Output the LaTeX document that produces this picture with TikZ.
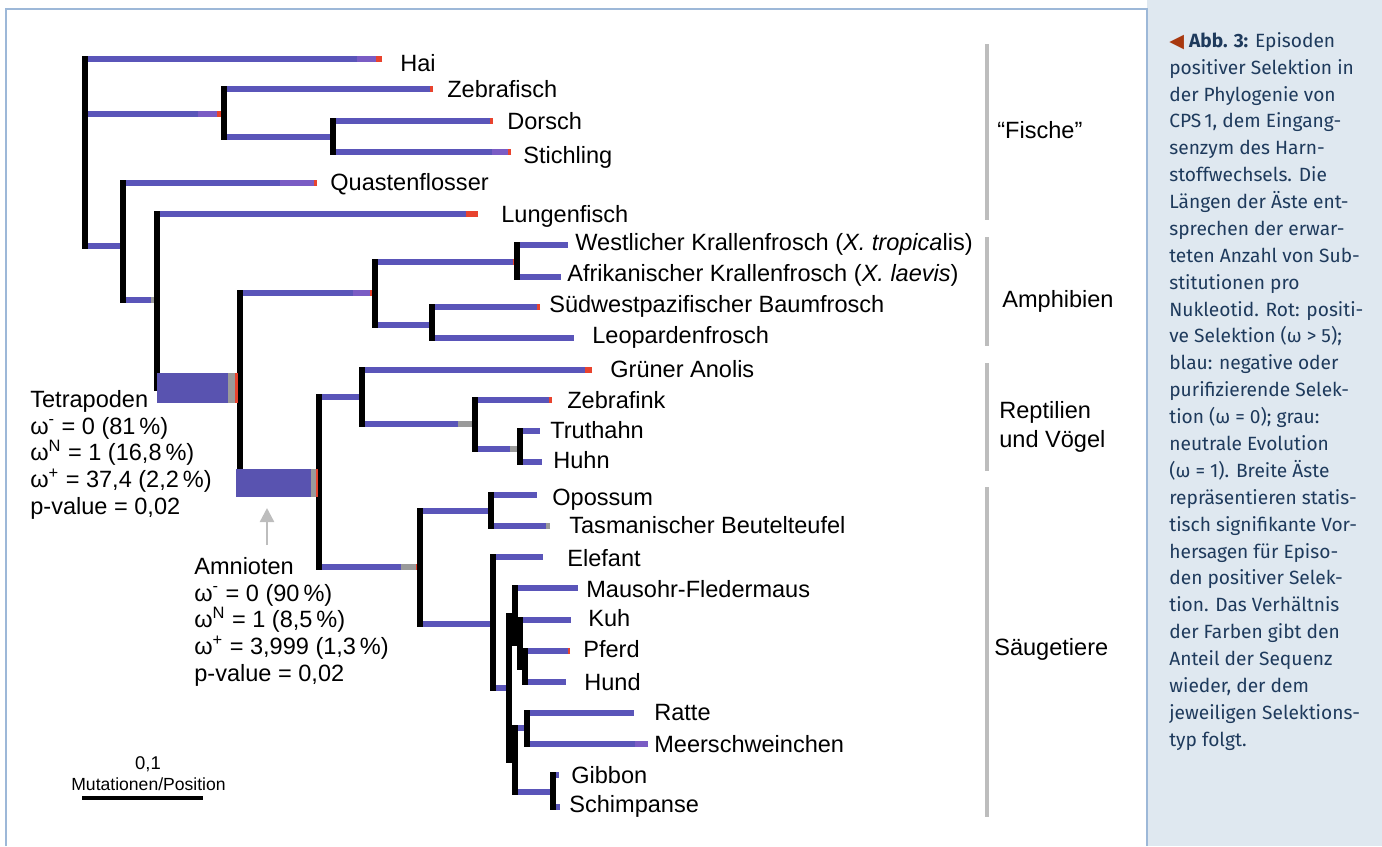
\documentclass[tikz,border=0pt]{standalone}
\usepackage{fontspec}
\setmainfont{Liberation Sans}
\newfontfamily\capfont{Fira Sans}
\newfontfamily\symfont{DejaVu Sans}
\usetikzlibrary{arrows.meta}

% parent/child/child of every split in the tree
\newcommand\clades{tel/zebra/gad, gad/dorsch/stich, sarc/quast/rhip, rhip/lungen/tetra,
  tetra/amph/amni, amph/xen/hyl, xen/westl/afrik, hyl/suedw/leop,
  amni/sau/mam, sau/anolis/aves, aves/zfink/gall, gall/truth/huhn,
  mam/mars/plac, mars/opos/tasm, plac/elef/bor, bor/laur/euar,
  laur/maus/scro, scro/kuh/pc, pc/pferd/hund, euar/rod/prim,
  rod/ratte/meer, prim/gibbon/schimp}

\begin{document}
\begin{tikzpicture}[x=0.02cm, y=-0.02cm,
  br/.style={line width=3pt, brblue},
  vt/.style={line width=3pt, black, line cap=rect},
  posbr/.style={line width=3pt, posred},
  neubr/.style={line width=3pt, neugray},
  mixbr/.style={line width=3pt, mixpurple},
  lbl/.style={anchor=base west, inner sep=0pt, font=\fontsize{13.4}{15.2}\selectfont},
  stat/.style={anchor=north west, inner sep=0pt, align=left, font=\fontsize{13.4}{15.2}\selectfont},
  grp/.style={line width=2.6pt, grpgray},
  hint/.style={line width=1.4pt, grpgray, -{Triangle[width=8pt, length=8pt]}}]
% Colours of the figure
\definecolor{brblue}{HTML}{5A55B9}
\definecolor{boxblue}{HTML}{5953B0}
\definecolor{posred}{HTML}{E8432E}
\definecolor{neugray}{HTML}{9A9A9A}
\definecolor{mixpurple}{HTML}{7A5CC4}
\definecolor{grpgray}{HTML}{BDBDBD}
\definecolor{frameblue}{HTML}{9DB8D8}
\definecolor{panelfill}{HTML}{DFE8F0}
\definecolor{captext}{HTML}{1E3A5C}
\definecolor{capred}{HTML}{A8380F}
\useasboundingbox (0,0) rectangle (1382,846);

% Frame and caption panel
\fill[panelfill] (1147,0) rectangle (1382,846);
\draw[frameblue, line width=0.7pt] (6,846) -- (6,9) -- (1147,9) -- (1147,846);

% Splits of the tree (x of the split, y of its branch)
\coordinate (root) at (85,152);
\coordinate (tel) at (224,114);
\coordinate (gad) at (333,137);
\coordinate (sarc) at (123,246);
\coordinate (rhip) at (157,300);
\coordinate (tetra) at (240,388);
\coordinate (amph) at (375,293);
\coordinate (xen) at (517,262);
\coordinate (hyl) at (432,325);
\coordinate (amni) at (319,483);
\coordinate (sau) at (362,397);
\coordinate (aves) at (475,424);
\coordinate (gall) at (520,449);
\coordinate (mam) at (420,567);
\coordinate (mars) at (491,511);
\coordinate (plac) at (493,624);
\coordinate (bor) at (509,688);
\coordinate (laur) at (515,616);
\coordinate (scro) at (520,643);
\coordinate (pc) at (525,667);
\coordinate (euar) at (515,760);
\coordinate (rod) at (527,728);
\coordinate (prim) at (553,792);
% Tips of the tree
\coordinate (hai) at (382,59);
\coordinate (zebra) at (433,89);
\coordinate (dorsch) at (493,121);
\coordinate (stich) at (511,152);
\coordinate (quast) at (317,183);
\coordinate (lungen) at (478,214);
\coordinate (westl) at (568,245);
\coordinate (afrik) at (561,277);
\coordinate (suedw) at (540,307);
\coordinate (leop) at (574,338);
\coordinate (anolis) at (592,370);
\coordinate (zfink) at (552,400);
\coordinate (truth) at (540,431);
\coordinate (huhn) at (542,462);
\coordinate (opos) at (537,495);
\coordinate (tasm) at (550,526);
\coordinate (elef) at (543,557);
\coordinate (maus) at (578,588);
\coordinate (kuh) at (571,620);
\coordinate (pferd) at (570,651);
\coordinate (hund) at (566,682);
\coordinate (ratte) at (634,713);
\coordinate (meer) at (648,744);
\coordinate (gibbon) at (559,775);
\coordinate (schimp) at (560,807);

% Branches are blue
\foreach \a in {hai,tel,sarc} \draw[br] (\a -| root) -- (\a);
\foreach \p/\a/\b in \clades {
  \draw[br] (\a -| \p) -- (\a);
  \draw[br] (\b -| \p) -- (\b);
}
% Ends of the branches: red positive, grey neutral
\foreach \t/\l/\c in {hai/25/mixbr, hai/6/posbr, tel/26/mixbr, tel/7/posbr, zebra/3/posbr,
    dorsch/3/posbr, stich/19/mixbr, stich/3/posbr, quast/37/mixbr, quast/3/posbr,
    lungen/12/posbr, rhip/6/neubr, amph/22/mixbr, amph/5/posbr, xen/4/posbr,
    suedw/3/posbr, anolis/7/posbr, zfink/3/posbr, aves/17/neubr, gall/10/neubr,
    pferd/2/posbr, tasm/4/neubr, mam/19/neubr, mam/4/posbr, meer/13/mixbr}
  \draw[\c] (\t) -- ++(-\l,0);
% Splits are black
\draw[vt] (hai -| root) -- (sarc -| root);
\foreach \p/\a/\b in \clades \draw[vt] (\a -| \p) -- (\b -| \p);

% Wide branches of Tetrapoden and Amnioten
\fill[boxblue] (157,373) rectangle (238,403);
\fill[neugray] (228,373) rectangle (235,403);
\fill[posred] (235,373) rectangle (238,403);
\fill[boxblue] (236,469) rectangle (317,497);
\fill[neugray] (311,469) rectangle (316,497);
\fill[posred] (316,469) rectangle (317.5,497);

% Species
\foreach \n/\x/\y/\t in {hai/400/71/Hai, zebra/447/97/Zebrafisch,
    dorsch/507/129/Dorsch, stich/523/163/Stichling,
    quast/330/190/Quastenflosser, lungen/501/222/Lungenfisch,
    westl/575/250/Westlicher Krallenfrosch (\textit{X. tropica}lis),
    afrik/567/281/Afrikanischer Krallenfrosch (\textit{X. laevis}),
    suedw/549/312/Südwestpazifischer Baumfrosch, leop/592/343/Leopardenfrosch,
    anolis/610/377/Grüner Anolis, zfink/567/408/Zebrafink,
    truth/550/438/Truthahn, huhn/553/468/Huhn,
    opos/552/505/Opossum, tasm/569/533/Tasmanischer Beutelteufel,
    elef/567/566/Elefant, maus/586/597/Mausohr-Fledermaus,
    kuh/588/626/Kuh, pferd/583/657/Pferd, hund/584/690/Hund,
    ratte/654/720/Ratte, meer/654/752/Meerschweinchen,
    gibbon/571/783/Gibbon, schimp/569/812/Schimpanse}
  \node[lbl] (l\n) at (\x,\y) {\t};

% Groups
\draw[grp] (987,44) -- (987,220);
\draw[grp] (987,237) -- (987,346);
\draw[grp] (987,363) -- (987,471);
\draw[grp] (987,487) -- (987,817);
\node[lbl] (gfish) at (997,138) {“Fische”};
\node[lbl] (gamph) at (1002,307) {Amphibien};
\node[stat, font=\fontsize{13.4}{16.4}\selectfont] (grept) at (999,401) {Reptilien\\und Vögel};
\node[lbl] (gmam) at (994,655) {Säugetiere};

% Estimates for the wide branches
\node[stat] (tetlbl) at (30,390) {Tetrapoden\\
  ω\textsuperscript{-} = 0 (81\,\%)\\
  ω\textsuperscript{N} = 1 (16,8\,\%)\\
  ω\textsuperscript{+} = 37,4 (2,2\,\%)\\
  p-value = 0,02};
\node[stat] (amlbl) at (194,557) {Amnioten\\
  ω\textsuperscript{-} = 0 (90\,\%)\\
  ω\textsuperscript{N} = 1 (8,5\,\%)\\
  ω\textsuperscript{+} = 3,999 (1,3\,\%)\\
  p-value = 0,02};
\coordinate (afoot) at (267,545);
\coordinate (atip) at (267,508);
\draw[hint] (afoot) -- (atip);

% Scale bar
\node[anchor=base, inner sep=0pt, font=\fontsize{10.5}{12}\selectfont] (sclval) at (148,769) {0,1};
\node[anchor=base west, inner sep=0pt, font=\fontsize{10}{12}\selectfont] (sclunit) at (71,790) {Mutationen/Position};
\draw[line width=2.8pt] (82,798) -- (203,798);

% Caption
\node[anchor=north west, inner sep=0pt, align=left, text=captext,
  font=\capfont\fontsize{10.9}{15.3}\selectfont] (caption) at (1169,32) {%
  {\symfont\color{capred}◀}\ \textbf{Abb. 3:} Episoden\\
  positiver Selektion in\\
  der Phylogenie von\\
  CPS\,1, dem Eingang-\\
  senzym des Harn-\\
  stoffwechsels. Die\\
  Längen der Äste ent-\\
  sprechen der erwar-\\
  teten Anzahl von Sub-\\
  stitutionen pro\\
  Nukleotid. Rot: positi-\\
  ve Selektion (ω > 5);\\
  blau: negative oder\\
  purifizierende Selek-\\
  tion (ω = 0); grau:\\
  neutrale Evolution\\
  (ω = 1). Breite Äste\\
  repräsentieren statis-\\
  tisch signifikante Vor-\\
  hersagen für Episo-\\
  den positiver Selek-\\
  tion. Das Verhältnis\\
  der Farben gibt den\\
  Anteil der Sequenz\\
  wieder, der dem\\
  jeweiligen Selektions-\\
  typ folgt.};
\end{tikzpicture}
\end{document}
